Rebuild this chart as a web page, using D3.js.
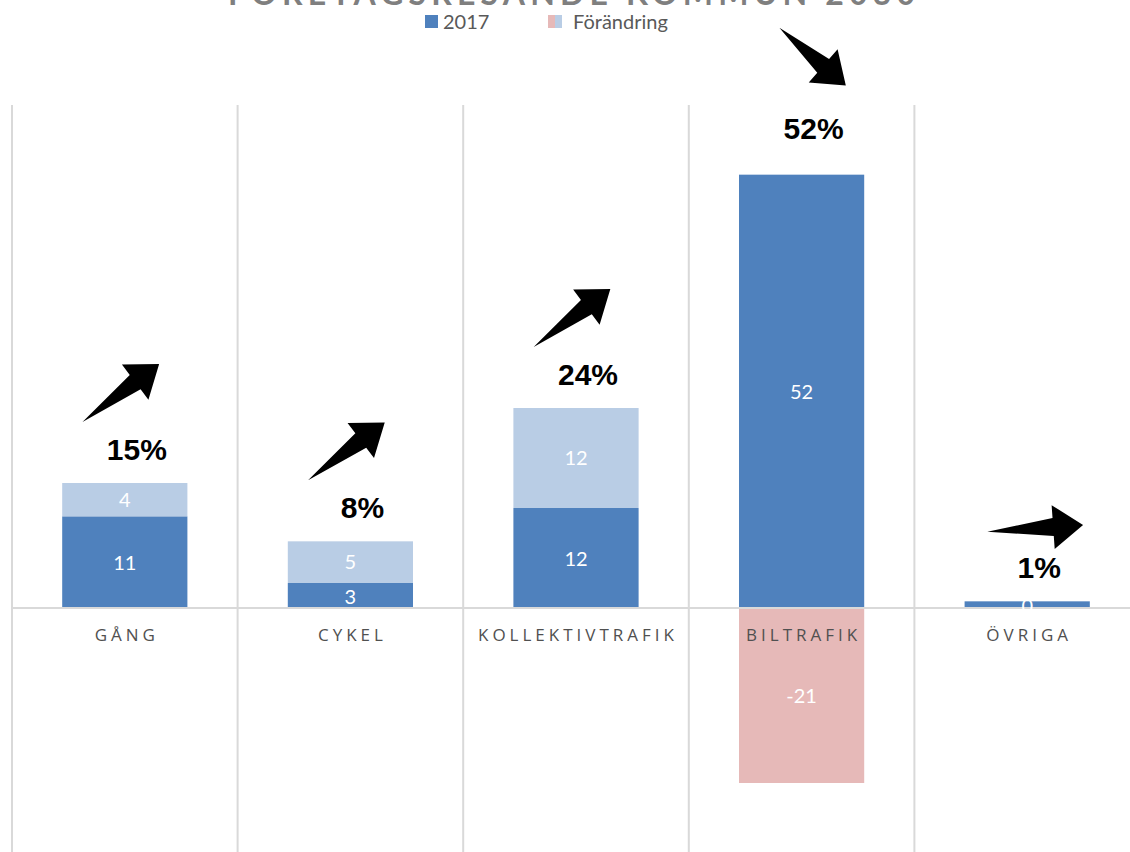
<!DOCTYPE html>
<html>
<head>
<meta charset="utf-8">
<script src="https://cdn.jsdelivr.net/npm/d3@7"></script>
<style>
  body { margin: 0; background: #fff; }
  svg { display: block; }
</style>
</head>
<body>
<svg id="chart"></svg>
<script>
// data
const categories = ["GÅNG", "CYKEL", "KOLLEKTIVTRAFIK", "BILTRAFIK", "ÖVRIGA"];
const values2017 = [11, 3, 12, 52, 0.8];
const labels2017 = ["11", "3", "12", "52", "0"];
const changes = [4, 5, 12, -21, 0];
const shares2030 = ["15%", "8%", "24%", "52%", "1%"];
const trends = ["up", "up", "up", "down", "flat"];
const legendLabels = ["2017", "Förändring"];
const title = "FÖRETAGSRESANDE KOMMUN 2030";

const width = 1130, height = 852;
const margin = { top: 105, right: -10, bottom: 0, left: 12 };
const colors = { base: "#4f81bd", up: "#b9cde5", down: "#e6b9b8", grid: "#d9d9d9", text: "#595959" };

const svg = d3.select("#chart")
    .attr("width", width)
    .attr("height", height);

const xscale = d3.scaleBand()
    .domain(categories)
    .range([margin.left, width - margin.right])
    .paddingInner(0)
    .paddingOuter(0);

const yscale = d3.scaleLinear()
    .domain([-30, 60])
    .range([858, 108]);

const data = categories.map((c, i) => ({
    cat: c,
    base: values2017[i],
    baseLabel: labels2017[i],
    change: changes[i],
    share: shares2030[i],
    trend: trends[i]
}));

// title (cut off at the top of the frame)
svg.append("text")
    .attr("x", 228)
    .attr("y", 5)
    .attr("textLength", 687)
    .attr("lengthAdjust", "spacing")
    .style("font-family", "Lato, sans-serif")
    .style("font-weight", "bold")
    .style("font-size", "32px")
    .style("fill", "#7f7f7f")
    .text(title);

// legend
const legend = svg.append("g");
legend.append("rect")
    .attr("x", 425).attr("y", 15).attr("width", 13).attr("height", 13)
    .style("fill", colors.base);
legend.append("text")
    .attr("x", 443).attr("y", 29)
    .style("font-family", "Lato, sans-serif")
    .style("font-size", "20px")
    .style("fill", colors.text)
    .text(legendLabels[0]);
legend.append("rect")
    .attr("x", 548).attr("y", 15).attr("width", 7).attr("height", 13)
    .style("fill", colors.down);
legend.append("rect")
    .attr("x", 555).attr("y", 15).attr("width", 7).attr("height", 13)
    .style("fill", colors.up);
legend.append("text")
    .attr("x", 573).attr("y", 29)
    .style("font-family", "Lato, sans-serif")
    .style("font-size", "20px")
    .style("fill", colors.text)
    .text(legendLabels[1]);

// vertical gridlines between categories
const edges = categories.map(c => xscale(c)).concat([xscale.range()[1]]);
svg.selectAll("line.grid")
    .data(edges)
    .join("line")
    .attr("class", "grid")
    .attr("x1", d => d).attr("x2", d => d)
    .attr("y1", margin.top).attr("y2", height)
    .style("stroke", colors.grid)
    .style("stroke-width", 2);

const barw = xscale.bandwidth() * 0.555;
const barx = d => xscale(d.cat) + (xscale.bandwidth() - barw) / 2;

// 2017 bars
svg.selectAll("rect.base")
    .data(data)
    .join("rect")
    .attr("class", "base")
    .attr("x", barx)
    .attr("width", barw)
    .attr("y", d => yscale(d.base))
    .attr("height", d => yscale(0) - yscale(d.base))
    .style("fill", colors.base);

// change bars: stacked on top when positive, below zero when negative
const changeData = data.filter(d => d.change !== 0);
const chTop = d => d.change > 0 ? yscale(d.base + d.change) : yscale(0);
const chBot = d => d.change > 0 ? yscale(d.base) : yscale(d.change);
svg.selectAll("rect.change")
    .data(changeData)
    .join("rect")
    .attr("class", "change")
    .attr("x", barx)
    .attr("width", barw)
    .attr("y", chTop)
    .attr("height", d => chBot(d) - chTop(d))
    .style("fill", d => d.change > 0 ? colors.up : colors.down);

// baseline
svg.append("line")
    .attr("x1", margin.left).attr("x2", width)
    .attr("y1", yscale(0)).attr("y2", yscale(0))
    .style("stroke", colors.grid)
    .style("stroke-width", 2);

// x axis labels
const xaxis = d3.axisBottom(xscale).tickSize(0).tickPadding(0);
const xaxis_group = svg.append("g")
    .attr("transform", `translate(2, ${yscale(0) + 21})`)
    .call(xaxis);
xaxis_group.select(".domain").remove();
xaxis_group.selectAll("text")
    .style("font-family", "'Open Sans', sans-serif")
    .style("font-size", "17px")
    .style("letter-spacing", "4px")
    .style("fill", "#505050");

// value labels inside bars
const labelStyle = sel => sel
    .attr("text-anchor", "middle")
    .attr("dy", "0.35em")
    .style("font-family", "Lato, sans-serif")
    .style("font-size", "20px")
    .style("fill", "#fff");

svg.selectAll("text.vbase")
    .data(data)
    .join("text")
    .attr("class", "vbase")
    .attr("x", d => xscale(d.cat) + xscale.bandwidth() / 2)
    .attr("y", d => (yscale(0) + yscale(d.base)) / 2 + 1)
    .text(d => d.baseLabel)
    .call(labelStyle);

svg.selectAll("text.vchange")
    .data(changeData)
    .join("text")
    .attr("class", "vchange")
    .attr("x", d => xscale(d.cat) + xscale.bandwidth() / 2)
    .attr("y", d => (chTop(d) + chBot(d)) / 2)
    .text(d => d.change)
    .call(labelStyle);

// 2030 share labels above bars
const topOf = d => Math.min(yscale(d.base), chTop(d));
const shareX = d => xscale(d.cat) + xscale.bandwidth() / 2 + 12;
const shareY = d => topOf(d) - (d.trend === "down" ? 36 : 23);
svg.selectAll("text.share")
    .data(data)
    .join("text")
    .attr("class", "share")
    .attr("x", shareX)
    .attr("y", shareY)
    .attr("text-anchor", "middle")
    .style("font-family", "'Liberation Sans', Arial, sans-serif")
    .style("font-weight", "bold")
    .style("font-size", "30px")
    .style("fill", "#000")
    .text(d => d.share);

// block arrows showing the trend
const arrowSpec = {
    up: { angle: -37, dx: -16, dy: -67, len: 96 },
    down: { angle: 41, dx: -1, dy: -82, len: 88 },
    flat: { angle: -4, dx: -4, dy: -50, len: 96 }
};
const arrowPath = len => {
    const h = 30;
    const s = len - h;
    return `M${-len / 2},0 L${-len / 2 + s},-9 L${-len / 2 + s},-22 L${len / 2},0 L${-len / 2 + s},22 L${-len / 2 + s},9 Z`;
};
svg.selectAll("path.arrow")
    .data(data)
    .join("path")
    .attr("class", "arrow")
    .attr("transform", d => {
        const a = arrowSpec[d.trend];
        return `translate(${shareX(d) + a.dx}, ${shareY(d) + a.dy}) rotate(${a.angle})`;
    })
    .attr("d", d => arrowPath(arrowSpec[d.trend].len))
    .style("fill", "#000");
</script>
</body>
</html>
